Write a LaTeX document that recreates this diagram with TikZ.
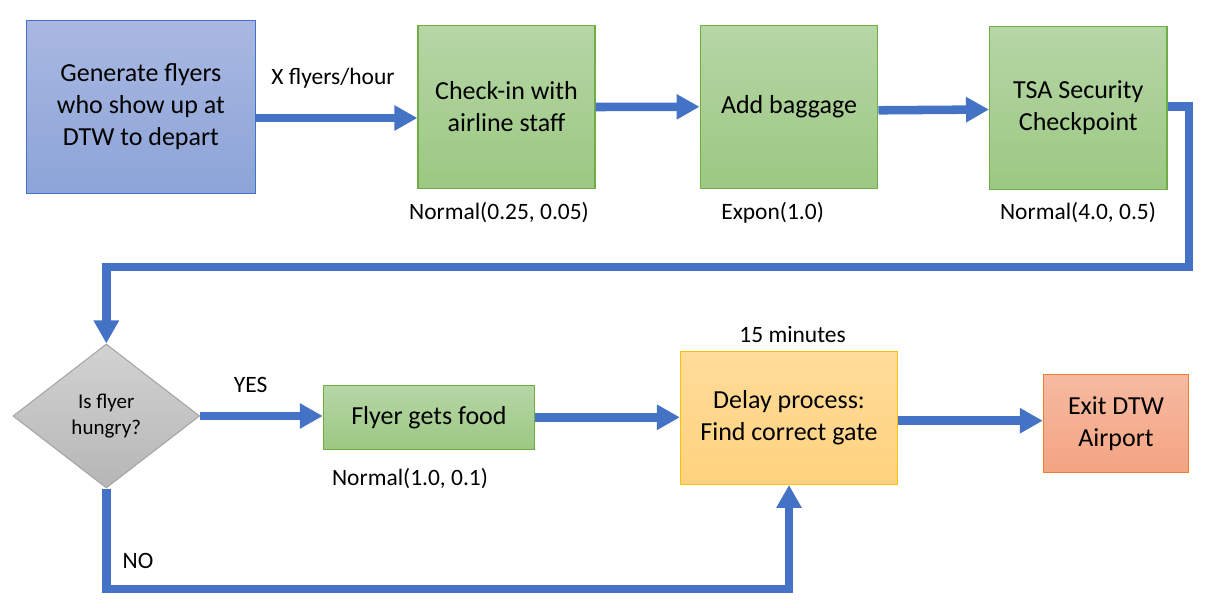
\documentclass[tikz,border=0pt]{standalone}
\usepackage{fontspec}
\setmainfont{Carlito}
\usetikzlibrary{arrows.meta,calc,shapes.geometric}
\definecolor{flowblue}{HTML}{4472C4}
\definecolor{gentop}{HTML}{A9B8E1}
\definecolor{genbot}{HTML}{8CA4D8}
\definecolor{grntop}{HTML}{B6D6A6}
\definecolor{grnbot}{HTML}{9CC882}
\definecolor{grnedge}{HTML}{70AD47}
\definecolor{graytop}{HTML}{D2D2D2}
\definecolor{graybot}{HTML}{B6B6B6}
\definecolor{grayedge}{HTML}{A5A5A5}
\definecolor{yeltop}{HTML}{FFDC9A}
\definecolor{yelbot}{HTML}{FFD27E}
\definecolor{yeledge}{HTML}{FFC000}
\definecolor{redtop}{HTML}{F6BAA1}
\definecolor{redbot}{HTML}{F4A482}
\definecolor{rededge}{HTML}{ED7D31}
\tikzset{
  boxbase/.style={rectangle, align=center, inner sep=2pt, line width=0.9pt,
    font=\fontsize{19.5}{24}\selectfont},
  genbox/.style={boxbase, draw=flowblue, top color=gentop, bottom color=genbot},
  procbox/.style={boxbase, draw=grnedge, top color=grntop, bottom color=grnbot},
  delaybox/.style={boxbase, draw=yeledge, top color=yeltop, bottom color=yelbot},
  exitbox/.style={boxbase, draw=rededge, top color=redtop, bottom color=redbot},
  decbox/.style={diamond, align=center, inner sep=0pt, line width=0.8pt,
    draw=grayedge, top color=graytop, bottom color=graybot,
    font=\fontsize{15.75}{19.5}\selectfont},
  lbl/.style={inner sep=0pt, font=\fontsize{17.6}{21}\selectfont},
  flow/.style={draw=flowblue, line width=6.4pt, line join=miter,
    -{Triangle[length=17.25pt,width=18pt]}},
}
\begin{document}
\begin{tikzpicture}[x=0.75pt,y=-0.75pt]
\useasboundingbox (0,0) rectangle (1209,607);
% nodes
\node[genbox, minimum width=171.6pt, minimum height=129.5pt] (gen) at (140.9,107) {Generate flyers\\who show up at\\DTW to depart};
\node[procbox, minimum width=132.75pt, minimum height=122.5pt] (checkin) at (506.5,107) {Check-in with\\airline staff};
\node[procbox, minimum width=133.3pt, minimum height=122.25pt] (baggage) at (789,106.8) {Add baggage};
\node[procbox, minimum width=133.1pt, minimum height=122.5pt] (tsa) at (1078.3,108) {TSA Security\\Checkpoint};
\node[decbox, minimum width=140pt, minimum height=108pt] (dia) at (106.3,416) {Is flyer\\hungry?};
\node[procbox, minimum width=158.3pt, minimum height=48pt] (food) at (428.9,417.3) {Flyer gets food};
\node[delaybox, minimum width=162.8pt, minimum height=99.5pt] (delay) at (789,418) {Delay process:\\Find correct gate};
\node[exitbox, minimum width=108.9pt, minimum height=73.5pt] (exit) at (1116,423.3) {Exit DTW\\Airport};
% labels
\node[lbl] (lrate) at (333,78) {X flyers/hour};
\node[lbl] (lcheck) at (499,213) {Normal(0.25, 0.05)};
\node[lbl] (lbag) at (772.6,213) {Expon(1.0)};
\node[lbl] (ltsa) at (1078,213) {Normal(4.0, 0.5)};
\node[lbl] (lyes) at (250.6,385) {YES};
\node[lbl] (lfood) at (410,479) {Normal(1.0, 0.1)};
\node[lbl] (lno) at (138,561) {NO};
\node[lbl] (ldelay) at (792.6,335) {15 minutes};
% turning points
\coordinate (turnR) at (1189,267);
\coordinate (turnB) at (106.3,589);
% connectors
\draw[flow] ($(gen.east)+(0,11)$) -- ($(checkin.west)+(0,11)$);
\draw[flow] (checkin.east) -- (baggage.west);
\draw[flow] ($(baggage.east)+(0,3.5)$) -- ($(tsa.west)+(0,1.5)$);
\draw[flow] ($(tsa.east)+(0,-1.3)$) -| (turnR) -| (dia.north);
\draw[flow] (dia.east) -- (dia.east -| food.west);
\draw[flow] (food.east) -- (food.east -| delay.west);
\draw[flow] (dia.south) -- (turnB) -| (delay.south);
\draw[flow] ($(delay.east)+(0,2.7)$) -- ($(exit.west)+(0,-2.6)$);
\end{tikzpicture}
\end{document}
